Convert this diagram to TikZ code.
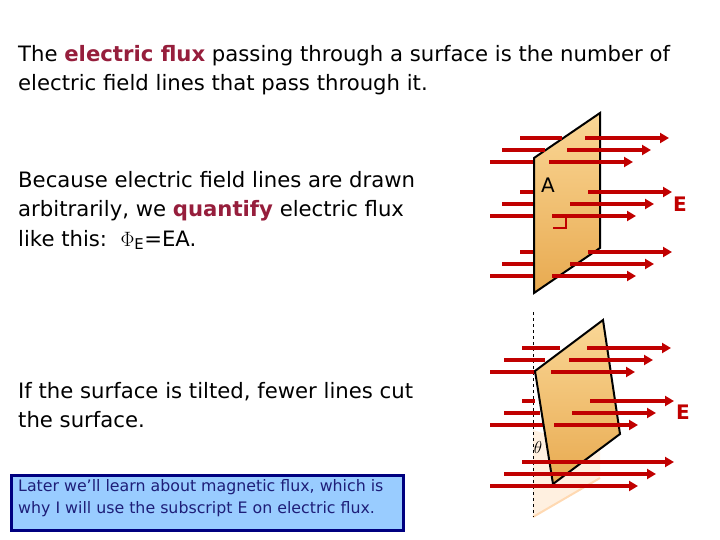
\documentclass[tikz,border=0pt]{standalone}
\usepackage{fontspec}
\setmainfont{DejaVu Sans}
\usetikzlibrary{arrows.meta}
\definecolor{fred}{RGB}{192,0,0}
\definecolor{kw}{RGB}{150,30,60}
\definecolor{navy}{RGB}{0,0,128}
\definecolor{tnavy}{RGB}{30,30,120}
\definecolor{boxfill}{RGB}{153,204,255}
\definecolor{plateA}{RGB}{232,170,80}
\definecolor{plateB}{RGB}{250,215,150}
\tikzset{
 txt/.style={anchor=base west,inner sep=0pt,font=\fontsize{21.2}{29}\selectfont},
 fl/.style={draw=fred,line width=3.5pt},
 fa/.style={fl,-{Triangle[length=9pt,width=10pt]}},
 plate/.style={draw=black,line width=2pt,line join=miter,top color=plateB,bottom color=plateA}
}
\begin{document}
\begin{tikzpicture}[x=1pt,y=-1pt]
\useasboundingbox (0,0) rectangle (720,540);
\node[txt] (t1) at (18,62) {The \textcolor{kw}{\textbf{electric flux}} passing through a surface is the number of};
\node[txt] (t2) at (18,91) {electric field lines that pass through it.};
\node[txt] (t3) at (18,188) {Because electric field lines are drawn};
\node[txt] (t4) at (18,217) {arbitrarily, we \textcolor{kw}{\textbf{quantify}} electric flux};
\node[txt] (t5) at (18,246) {like this:\ \ $\Phi$\textsubscript{E}=EA.};
\node[txt] (t6) at (18,398) {If the surface is tilted, fewer lines cut};
\node[txt] (t7) at (18,427) {the surface.};
\node[draw=navy,line width=3pt,fill=boxfill,minimum width=392pt,minimum height=55pt,anchor=north west,inner sep=0pt] (box) at (10,474) {};
\node[anchor=north west,inner sep=0pt,align=left,text=tnavy,font=\fontsize{15.8}{22}\selectfont] (bt) at (18,479) {Later we’ll learn about magnetic flux, which is\\why I will use the subscript E on electric flux.};

% top panel
\foreach \y in {138,192,252}{
 \draw[fl] (520,\y) -- (533,\y);
 \draw[fl] (502,\y+12) -- (533,\y+12);
 \draw[fl] (490,\y+24) -- (533,\y+24);
}
\draw[plate] (534,158) -- (600,113) -- (600,248) -- (534,293) -- cycle;
\foreach \y/\a in {138/585,192/588,252/588}{
 \draw[fa] (\a,\y) -- (\a+84,\y);
 \draw[fa] (\a-18,\y+12) -- (\a+66,\y+12);
 \draw[fa] (\a-36,\y+24) -- (\a+48,\y+24);
}
\draw[fl] (505,150) -- (545,150);
\draw[fl] (520,138) -- (562,138);
\node[font=\fontsize{20}{20}\selectfont,inner sep=0pt] (A) at (548,185) {A};
\draw[fred,line width=2.5pt] (553,228) -- (566,228) -- (566,216);
\node[font=\bfseries\fontsize{20}{20}\selectfont,text=fred,inner sep=0pt] (E1) at (680,204) {E};

% bottom panel
\fill[orange!12] (533,430) -- (600,450) -- (600,478) -- (533,517) -- cycle;
\draw[orange!30,line width=2pt] (600,478) -- (533,517);
\draw[dashed,line width=0.6pt] (533,312) -- (533,517);
\foreach \y in {348,401}{
 \draw[fl] (522,\y) -- (535,\y);
 \draw[fl] (504,\y+12) -- (540,\y+12);
 \draw[fl] (490,\y+24) -- (545,\y+24);
}
\draw[plate] (535,371) -- (603,320) -- (620,434) -- (553,484) -- cycle;
\foreach \y/\a in {348/587,401/590}{
 \draw[fa] (\a,\y) -- (\a+84,\y);
 \draw[fa] (\a-18,\y+12) -- (\a+66,\y+12);
 \draw[fa] (\a-36,\y+24) -- (\a+48,\y+24);
}
\draw[fl] (522,348) -- (560,348);
\draw[fl] (504,360) -- (545,360);
\draw[fa] (522,462) -- (674,462);
\draw[fa] (504,474) -- (656,474);
\draw[fa] (490,486) -- (638,486);
\node[font=\fontsize{16}{16}\selectfont,inner sep=0pt] (th) at (538,447) {$\theta$};
\node[font=\bfseries\fontsize{20}{20}\selectfont,text=fred,inner sep=0pt] (E2) at (683,412) {E};
\end{tikzpicture}
\end{document}
